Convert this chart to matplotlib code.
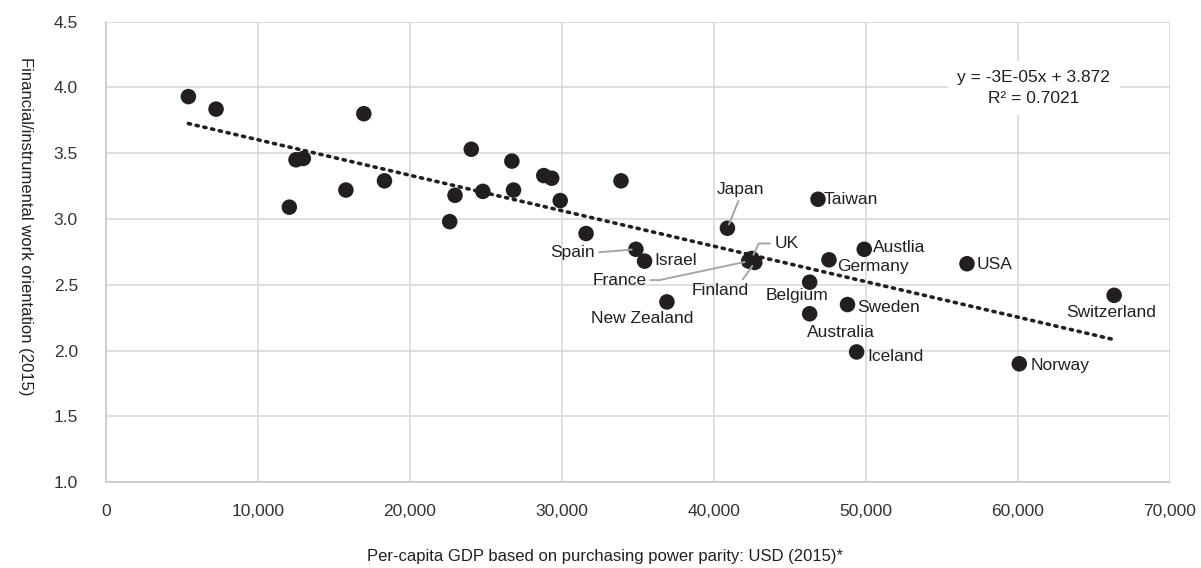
import numpy as np
import matplotlib
matplotlib.use("Agg")
import matplotlib.pyplot as plt
from matplotlib.ticker import FuncFormatter, MultipleLocator

plt.rcParams['font.family'] = ['Liberation Sans', 'DejaVu Sans']

# unlabelled countries
gdp_other = [5440, 7260, 16980, 12520, 13000, 24050, 12080, 15800, 18340,
             22980, 24810, 22630, 26720, 28820, 29340, 26830, 29900, 33900, 31600]
score_other = [3.93, 3.835, 3.80, 3.45, 3.46, 3.53, 3.09, 3.22, 3.29,
               3.18, 3.21, 2.98, 3.44, 3.33, 3.31, 3.22, 3.14, 3.29, 2.89]

# labelled countries
countries = ['Spain', 'Israel', 'New Zealand', 'Japan', 'UK', 'France', 'Finland',
             'Taiwan', 'Austlia', 'Germany', 'USA', 'Belgium', 'Sweden',
             'Australia', 'Iceland', 'Norway', 'Switzerland']
gdp_named = [34880, 35450, 36920, 40900, 42500, 42300, 42700,
             46860, 49900, 47580, 56660, 46310, 48800,
             46310, 49400, 60100, 66340]
score_named = [2.77, 2.68, 2.37, 2.93, 2.70, 2.68, 2.67,
               3.15, 2.77, 2.69, 2.66, 2.52, 2.35,
               2.28, 1.99, 1.90, 2.42]

# label offsets (points), alignment, leader line settings
label_style = {
    'Spain':       ((-29.5, -2.4), 'right', True, None),
    'Israel':      ((7.2, 0.5), 'left', False, None),
    'New Zealand': ((-18, -12.2), 'center', False, None),
    'Japan':       ((9.1, 27.9), 'center', True, None),
    'UK':          ((16.3, 10.8), 'left', True, "angle,angleA=0,angleB=65,rad=0"),
    'France':      ((-73.7, -13.7), 'right', True, "angle,angleA=0,angleB=12,rad=0"),
    'Finland':     ((-25, -20.4), 'center', True, None),
    'Taiwan':      ((4.3, 0), 'left', False, None),
    'Austlia':     ((6.5, 1.5), 'left', False, None),
    'Germany':     ((5.8, -4.8), 'left', False, None),
    'USA':         ((6.8, -0.7), 'left', False, None),
    'Belgium':     ((-9.4, -9.9), 'center', False, None),
    'Sweden':      ((6.7, -2.2), 'left', False, None),
    'Australia':   ((22.3, -13.2), 'center', False, None),
    'Iceland':     ((7.6, -3.3), 'left', False, None),
    'Norway':      ((7.9, -1.2), 'left', False, None),
    'Switzerland': ((-2.4, -12.7), 'center', False, None),
}

dark = '#231f20'
grid_c = '#d9d9d9'

fig = plt.figure(figsize=(12.01, 5.68), dpi=100)
ax = fig.add_axes([0.088, 0.151, 0.886, 0.811])

all_x = np.array(gdp_other + gdp_named, dtype=float)
all_y = np.array(score_other + score_named, dtype=float)

# linear trend
slope, intercept = np.polyfit(all_x, all_y, 1)
pred = slope * all_x + intercept
r2 = 1 - np.sum((all_y - pred) ** 2) / np.sum((all_y - all_y.mean()) ** 2)
xs = np.array([all_x.min(), all_x.max()])
ax.plot(xs, slope * xs + intercept, linestyle=(0, (0.6, 1.6)), color=dark,
        lw=2.6, dash_capstyle='round', zorder=2)

ax.scatter(all_x, all_y, s=125, color=dark, edgecolors='none', zorder=3)

for name, x, y in zip(countries, gdp_named, score_named):
    off, ha, leader, conn = label_style[name]
    kw = {}
    if leader:
        relpos = {'right': (1, 0.5), 'left': (0, 0.5), 'center': (0.5, 0.5)}[ha]
        if name == 'Japan':
            relpos = (0.5, 0)
        if name == 'Finland':
            relpos = (0.85, 1)
        kw['arrowprops'] = dict(arrowstyle='-', color='#a6a6a6', lw=1.4,
                                shrinkA=1, shrinkB=3, relpos=relpos,
                                connectionstyle=conn or "arc3")
    ax.annotate(name, (x, y), xytext=off, textcoords='offset points',
                ha=ha, va='center', fontsize=12.5, color=dark, zorder=4, **kw)

ax.text(0.872, 0.856, "y = -3E-05x + %.3f\nR\u00b2 = %.4f" % (intercept, r2),
        transform=ax.transAxes, ha='center', va='center', fontsize=12.5,
        color=dark, linespacing=1.45, zorder=5,
        bbox=dict(boxstyle='square,pad=0.55', fc='white', ec='none'))

ax.set_xlim(0, 70000)
ax.set_ylim(1.0, 4.5)
ax.xaxis.set_major_locator(MultipleLocator(10000))
ax.yaxis.set_major_locator(MultipleLocator(0.5))
ax.xaxis.set_major_formatter(FuncFormatter(lambda v, p: '{:,.0f}'.format(v)))
ax.yaxis.set_major_formatter(FuncFormatter(lambda v, p: '%.1f' % v))
ax.tick_params(length=0, labelsize=12.5, labelcolor='#333333')
ax.tick_params(axis='y', pad=20)
ax.tick_params(axis='x', pad=16)
ax.grid(True, color=grid_c, lw=1.2)
ax.set_axisbelow(True)
for side in ['top', 'right']:
    ax.spines[side].set_visible(False)
for side in ['left', 'bottom']:
    ax.spines[side].set_color('#c8c8c8')
    ax.spines[side].set_linewidth(1.2)

fig.text(605 / 1201, 1 - 557 / 568,
         'Per-capita GDP based on purchasing power parity: USD (2015)*',
         ha='center', va='center', fontsize=12, color=dark)
fig.text(25 / 1201, 1 - 226 / 568, 'Financial/instrumental work orientation (2015)',
         ha='center', va='center', rotation=-90, fontsize=12, color=dark)

fig.savefig('out.png', dpi=100)
